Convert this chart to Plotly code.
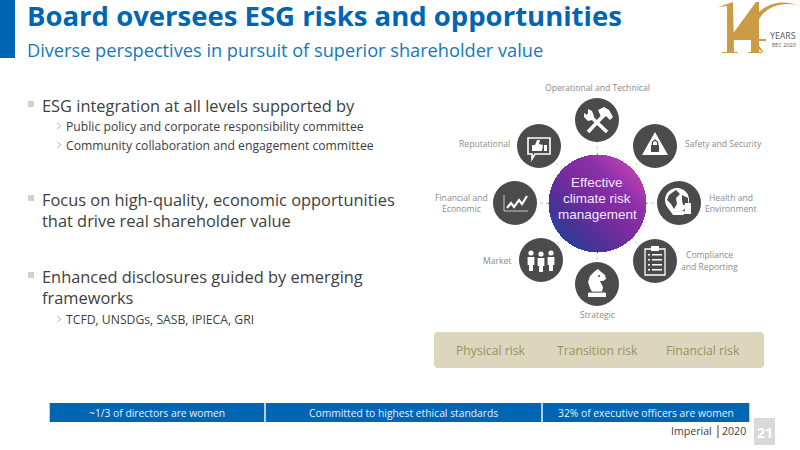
import numpy as np
import plotly.graph_objects as go

BLUE = "#0066b3"
DARK = "#4b4a4c"
GREY = "#8c8c8c"
TXT = "#404040"
GOLD = "#cc9b45"
FONT = "Open Sans"

title = "Board oversees ESG risks and opportunities"
subtitle = "Diverse perspectives in pursuit of superior shareholder value"
bullets = [
    ("ESG integration at all levels supported by", 40, 105),
    ("Focus on high-quality, economic opportunities", 40, 199),
    ("that drive real shareholder value", 40, 220),
    ("Enhanced disclosures guided by emerging", 40, 276),
    ("frameworks", 40, 297),
]
subbullets = [
    ("Public policy and corporate responsibility committee", 126),
    ("Community collaboration and engagement committee", 145),
    ("TCFD, UNSDGs, SASB, IPIECA, GRI", 319),
]
bullet_rows = [104, 198, 275]
icon_centres = [(597, 120), (655, 146), (679, 203), (655, 261), (597, 284), (541, 260), (515, 203), (539, 146)]
centre = (597, 203)
centre_lines = [("Effective", 182), ("climate risk", 198), ("management", 214)]
ring_labels = [
    ("Operational and Technical", 597, 88), ("Safety and Security", 723, 144),
    ("Health and", 731, 198), ("Environment", 731, 209), ("Compliance", 709, 255),
    ("and Reporting", 709, 267), ("Strategic", 597, 315), ("Market", 497, 261),
    ("Financial and", 461, 198), ("Economic", 461, 209), ("Reputational", 484, 144),
]
risk_labels = [("Physical risk", 491), ("Transition risk", 597), ("Financial risk", 703)]
footer_cells = [("~1/3 of directors are women", 49, 265), ("Committed to highest ethical standards", 265, 542),
                ("32% of executive officers are women", 542, 750)]

shapes, notes = [], []


def rect(x0, y0, x1, y1, color):
    shapes.append(dict(type="rect", x0=x0, y0=y0, x1=x1, y1=y1, fillcolor=color, line_width=0, layer="above"))


def circ(cx, cy, r, color):
    shapes.append(dict(type="circle", x0=cx - r, y0=cy - r, x1=cx + r, y1=cy + r, fillcolor=color, line_width=0, layer="above"))


def poly(cx, cy, pts, color=None, line=None, width=1.5, close=True):
    p = "M" + " L".join(f"{cx + a},{cy + b}" for a, b in pts) + (" Z" if close else "")
    shapes.append(dict(type="path", path=p, fillcolor=color if color else "rgba(0,0,0,0)",
                       line=dict(color=line if line else "rgba(0,0,0,0)", width=width), layer="above"))


def text(s, x, y, size, color, anchor="left", family=FONT, bold=False):
    notes.append(dict(text=f"<b>{s}</b>" if bold else s, x=x, y=y, xref="x", yref="y", showarrow=False,
                      xanchor=anchor, yanchor="middle", font=dict(size=size, color=color, family=family)))


# header
rect(0, 0, 15, 58, BLUE)
text(title, 25, 15, 27.5, BLUE, bold=True)
text(subtitle, 25, 50, 18.2, "#1478bf")

# body text
for y in bullet_rows:
    rect(28, y - 3, 34, y + 3, "#d0d0d0")
for s, x, y in bullets:
    text(s, x, y, 16.4, TXT)
for s, y in subbullets:
    poly(0, 0, [(57, y - 3), (61, y), (57, y + 3)], None, "#bdbdbd", 1, close=False)
    text(s, 64, y, 12.2, TXT)

# connectors
for cx, cy in icon_centres:
    shapes.append(dict(type="line", x0=centre[0], y0=centre[1], x1=cx, y1=cy,
                       line=dict(color="#c4c4c4", width=1, dash="dot"), layer="below"))
for cx, cy in icon_centres:
    circ(cx, cy, 22, DARK)

# icons, white glyphs on the dark discs
W = "white"
cx, cy = icon_centres[0]
poly(cx, cy, [(7, -5), (-9, 12)], None, W, 3.6, close=False)
poly(cx, cy, [(-9, -6), (10, 12)], None, W, 3.6, close=False)
poly(cx, cy, [(-13, -7), (-13, -3), (-9, 1), (-5, 0), (-3, -4), (-5, -9), (-9, -11), (-9, -7), (-10, -5)], W)
poly(cx, cy, [(1, -10), (7, -13), (12, -10), (16, -3), (13, 0), (9, -4), (5, -1)], W)
cx, cy = icon_centres[1]
poly(cx, cy, [(0, -14), (13, 9), (-13, 9)], W)
rect(cx - 4, cy - 1, cx + 4, cy + 6, DARK)
poly(cx, cy, [(-2.6, -1), (-2.6, -4), (0, -6), (2.6, -4), (2.6, -1)], None, DARK, 1.3, close=False)
cx, cy = icon_centres[2]
circ(cx - 2, cy - 3, 12, W)
poly(cx, cy, [(-10, -8), (-3, -13), (1, -9), (-3, -5), (-2, 1), (-5, 6), (-8, 1), (-12, -3)], DARK)
poly(cx, cy, [(3, -8), (9, -5), (9, 1), (4, 2), (3, -3)], DARK)
poly(cx, cy, [(-11, 5), (-6, 12), (4, 12), (9, 9), (4, 8), (-3, 9)], W)
rect(cx + 6, cy + 0, cx + 12, cy + 11, W)
cx, cy = icon_centres[3]
poly(cx, cy, [(-10, -12), (10, -12), (10, 14), (-10, 14)], None, W, 1.3)
rect(cx - 4, cy - 15, cx + 4, cy - 10, W)
for dy in (-7, -2, 3, 8):
    rect(cx - 7, cy + dy, cx - 5, cy + dy + 1.5, W)
    rect(cx - 3, cy + dy, cx + 7, cy + dy + 1.5, W)
cx, cy = icon_centres[4]
poly(cx, cy, [(-9, 13), (9, 13), (9, 9), (5, 8), (6, 3), (3, -3), (6, -3), (9, -5), (8, -9), (3, -13), (1, -15), (-2, -13), (-7, -8), (-9, -2), (-7, 4), (-5, 8), (-9, 9)], W)
circ(cx + 2, cy - 8, 1, DARK)
rect(cx - 6, cy + 7.6, cx + 6, cy + 8.6, DARK)
cx, cy = icon_centres[5]
for dx, dy in ((-10, 0), (0, 1), (10, 0)):
    circ(cx + dx, cy + dy - 7, 2.6, W)
    poly(cx + dx, cy + dy, [(-3.4, -3), (3.4, -3), (3.4, 5), (2, 5), (2, 11), (-2, 11), (-2, 5), (-3.4, 5)], W)
cx, cy = icon_centres[6]
poly(cx, cy, [(-11, -8), (-11, 8), (13, 8)], None, "#c8c8c8", 1, close=False)
poly(cx, cy, [(-8, 5), (-4, 0), (-1, 4), (4, -3), (7, 1), (12, -7)], None, W, 2.2, close=False)
cx, cy = icon_centres[7]
poly(cx, cy, [(-11, -8), (11, -8), (11, 8), (-4, 8), (-7, 13), (-7, 8), (-11, 8)], None, W, 1.6)
poly(cx, cy, [(-7, -1), (-4, -1), (-2, -6), (1, -6), (0, -2), (4, -1), (3, 5), (-7, 5)], W)
rect(cx + 5, cy - 1, cx + 8, cy + 5, W)

# centre disc: a diagonal purple gradient
xs = np.arange(centre[0] - 50, centre[0] + 50.5, 1.0)
ys = np.arange(centre[1] - 50, centre[1] + 50.5, 1.0)
gx, gy = np.meshgrid(xs, ys)
dx, dy = gx - centre[0], gy - centre[1]
z = (dx - dy) / 98.0
z[dx * dx + dy * dy > 49 ** 2] = np.nan
disc = go.Heatmap(x=xs, y=ys, z=z, zmin=-0.72, zmax=0.72, showscale=False, hoverinfo="skip",
                  colorscale=[[0, "#2b3f98"], [0.22, "#4e3097"], [0.5, "#7a2c9e"], [0.75, "#8a30a8"], [1, "#bb3fb4"]])
for s, y in centre_lines:
    text(s, centre[0], y, 13.5, "#f1e6f6", "center", "Liberation Sans")

for s, x, y in ring_labels:
    text(s, x, y, 8.6, GREY, "center")

# risk band
shapes.append(dict(type="path", layer="above", fillcolor="#dcd7bc", line_width=0,
                   path="M438,332 L760,332 Q764,332 764,336 L764,364 Q764,368 760,368 L438,368 Q434,368 434,364 L434,336 Q434,332 438,332 Z"))
for s, x in risk_labels:
    text(s, x, 350, 12.2, "#97925c", "center")

# footer
for s, x0, x1 in footer_cells:
    rect(x0 + 0.7, 403, x1 - 0.7, 422, BLUE)
    text(s, (x0 + x1) / 2, 413, 10.3, "#e8f0f8", "center")
text("Imperial", 714, 431, 10.6, TXT, "right")
rect(717.5, 425, 718.5, 438, TXT)
text("2020", 720, 431, 10.6, TXT)
rect(754, 418, 775, 445, "#d9d9d9")
text("21", 764.5, 432, 14, "white", "center", bold=True)

# anniversary logo
logo_paths = [
    "M718,7 L733,2 L734,52 L738,52 L738,53 L722,53 L722,52 L727,52 L727,6 Z",
    "M759,2 L759,52 L762,52 L762,53 L748,53 L748,52 L751,52 L751,40 L729,40 L729,39 L756,2 Z",
    "M797,5 C780,-2 755,5 751,28 C749,40 756,49 765,53 C758,46 754,38 756,28 C760,8 780,1 797,5 Z",
]
for pth in logo_paths:
    shapes.append(dict(type="path", path=pth, line_width=0, fillcolor=GOLD, layer="above"))
rect(751, 39, 766, 41, GOLD)
text("YEARS", 798, 36, 8.8, "#5a5a5a", "right")
text("EEC 2020", 798, 45, 5.6, "#5a5a5a", "right")

fig = go.Figure(disc)
fig.update_layout(width=800, height=450, margin=dict(l=0, r=0, t=0, b=0), paper_bgcolor="white", plot_bgcolor="white",
                  shapes=shapes, annotations=notes, showlegend=False, font=dict(family=FONT))
fig.update_xaxes(range=[0, 800], visible=False, fixedrange=True)
fig.update_yaxes(range=[450, 0], visible=False, fixedrange=True)
fig.write_html("out.html", config=dict(displayModeBar=False),
               post_script="document.body.style.margin='0';document.documentElement.style.overflow='hidden';")
